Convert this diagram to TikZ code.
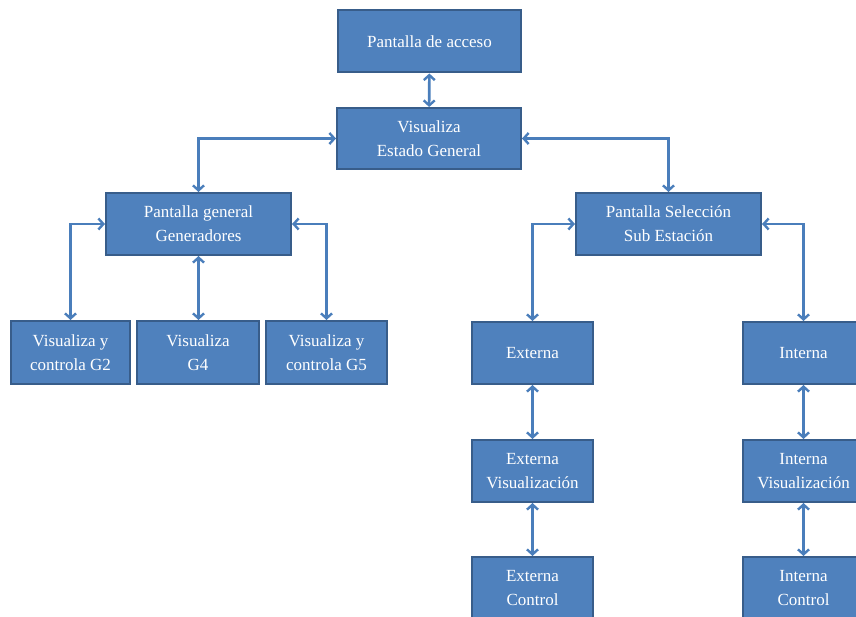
\documentclass[tikz,border=0pt]{standalone}
\usepackage{fontspec}
\setmainfont{Liberation Serif}
\usetikzlibrary{arrows.meta}
\definecolor{boxfill}{HTML}{4F81BD}
\definecolor{boxline}{HTML}{385D8A}
\definecolor{linkcol}{HTML}{4A7EBB}
\begin{document}
\begin{tikzpicture}[x=1pt,y=-1pt,
  box/.style={draw=boxline,fill=boxfill,line width=2pt,text=white,align=center,
    inner sep=0pt,minimum height=62pt,font=\fontsize{17}{24}\selectfont},
  link/.style={draw=linkcol,line width=2.6pt,{Straight Barb[length=5pt,width=11pt,line width=2.4pt]}-{Straight Barb[length=5pt,width=11pt,line width=2.4pt]}}]
\useasboundingbox (0,0) rectangle (856,617);
\clip (0,0) rectangle (856,617);
\node[box,minimum width=183pt] (acc) at (429.5,41.5) {Pantalla de acceso};
\node[box,minimum width=184pt,minimum height=61pt] (vis) at (429,138.5) {Visualiza\\Estado General};
\node[box,minimum width=185pt] (pg) at (198.5,224) {Pantalla general\\Generadores};
\node[box,minimum width=185pt] (pss) at (668.5,224) {Pantalla Selección\\Sub Estación};
\node[box,minimum width=119pt,minimum height=63pt] (g2) at (70.5,352.5) {Visualiza y\\controla G2};
\node[box,minimum width=122pt,minimum height=63pt] (g4) at (198,352.5) {Visualiza\\G4};
\node[box,minimum width=121pt,minimum height=63pt] (g5) at (326.5,352.5) {Visualiza y\\controla G5};
\node[box,minimum width=121pt] (ext) at (532.5,353) {Externa};
\node[box,minimum width=121pt] (int) at (803.5,353) {Interna};
\node[box,minimum width=121pt] (extv) at (532.5,471) {Externa\\Visualización};
\node[box,minimum width=121pt] (intv) at (803.5,471) {Interna\\Visualización};
\node[box,minimum width=121pt] (extc) at (532.5,588) {Externa\\Control};
\node[box,minimum width=121pt] (intc) at (803.5,588) {Interna\\Control};
\draw[link] (acc) -- (vis);
\draw[link] (vis.west) -| (pg.north);
\draw[link] (vis.east) -| (pss.north);
\draw[link] (pg.west) -| (g2.north);
\draw[link] (pg.south) -- (pg.south |- g4.north);
\draw[link] (pg.east) -| (g5.north);
\draw[link] (pss.west) -| (ext.north);
\draw[link] (pss.east) -| (int.north);
\draw[link] (ext) -- (extv);
\draw[link] (extv) -- (extc);
\draw[link] (int) -- (intv);
\draw[link] (intv) -- (intc);
\end{tikzpicture}
\end{document}
